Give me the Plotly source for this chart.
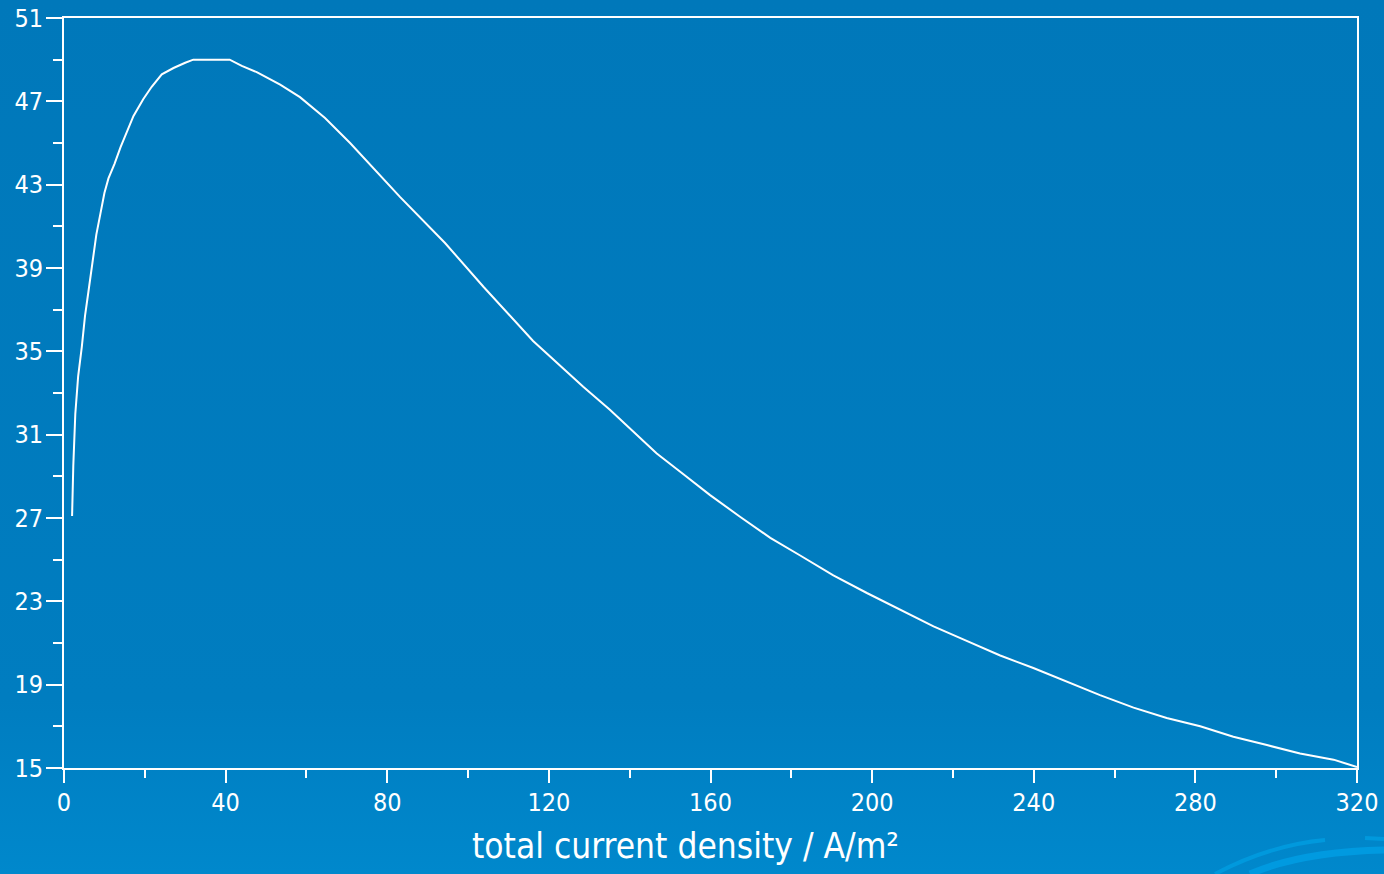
import plotly.graph_objects as go

# total current density (A/m^2)
current_density = [2.0, 2.3, 2.8, 3.5, 4.4, 5.2, 6.0, 7.0, 8.0, 9.0, 10.0, 11.0, 12.5, 14.0,
                   15.5, 17.2, 19.6, 21.7, 24.2, 27.1, 30.0, 32.0, 41.0, 44.0, 47.7, 53.5,
                   58.4, 64.6, 70.8, 83.2, 94.3, 103.8, 116.1, 128.5, 135.1, 141.8, 146.7,
                   153.3, 159.9, 167.3, 174.8, 182.2, 190.4, 198.7, 207.0, 215.2, 223.4,
                   231.7, 239.9, 248.2, 256.4, 264.7, 272.9, 281.2, 289.4, 297.7, 305.9,
                   314.2, 320.0]
values = [27.1, 29.5, 32.0, 33.8, 35.2, 36.7, 37.8, 39.2, 40.6, 41.6, 42.6, 43.3, 44.0, 44.8,
          45.5, 46.3, 47.1, 47.7, 48.3, 48.6, 48.85, 49.0, 49.0, 48.7, 48.4, 47.8,
          47.2, 46.2, 45.0, 42.4, 40.2, 38.1, 35.5, 33.3, 32.2, 31.0, 30.1,
          29.1, 28.1, 27.06, 26.05, 25.2, 24.25, 23.4, 22.6, 21.8, 21.1,
          20.4, 19.8, 19.15, 18.5, 17.9, 17.4, 17.0, 16.5, 16.1, 15.7,
          15.4, 15.05]

x_ticks = [0, 40, 80, 120, 160, 200, 240, 280, 320]
y_ticks = [15, 19, 23, 27, 31, 35, 39, 43, 47, 51]
x_title = "total current density / A/m²"

W, H = 1384, 874
ML, MR, MT, MB = 64, 27, 18, 106
PW, PH = W - ML - MR, H - MT - MB

bg_svg = (
    "data:image/svg+xml;utf8,"
    "<svg xmlns='http://www.w3.org/2000/svg' width='1384' height='874' viewBox='0 0 1384 874' preserveAspectRatio='none'>"
    "<defs><linearGradient id='g' x1='0' y1='0' x2='0' y2='1'>"
    "<stop offset='0' stop-color='%230078BA'/>"
    "<stop offset='0.8' stop-color='%23007DC0'/>"
    "<stop offset='1' stop-color='%230088CC'/>"
    "</linearGradient></defs>"
    "<rect width='1384' height='874' fill='url(%23g)'/>"
    "<path d='M1215 874 Q1270 845 1325 840' stroke='%230099DD' stroke-width='4' fill='none'/>"
    "<path d='M1365 838 L1384 839' stroke='%230099DD' stroke-width='4' fill='none'/>"
    "<path d='M1250 874 Q1300 852 1384 850' stroke='%23009AE0' stroke-width='7' fill='none'/>"
    "</svg>"
)

font_family = "DejaVu Sans Condensed, Liberation Sans Narrow, Liberation Sans, sans-serif"

fig = go.Figure()
fig.add_trace(go.Scatter(
    x=current_density, y=values, mode="lines",
    line=dict(color="white", width=2),
    showlegend=False, hoverinfo="skip",
))

axis_common = dict(
    showline=True, linecolor="white", linewidth=2, mirror=True,
    ticks="outside", tickcolor="white", tickwidth=2,
    showgrid=False, zeroline=False, automargin=False,
    tickfont=dict(family=font_family, size=25, color="white"),
)

fig.update_xaxes(
    range=[0, 320], tickvals=x_ticks, ticklen=13,
    minor=dict(tick0=0, dtick=20, ticklen=8, ticks="outside", tickcolor="white", tickwidth=2, showgrid=False),
    ticklabelstandoff=-2,
    **axis_common,
)
fig.update_yaxes(
    range=[15, 51], tickvals=y_ticks, ticklen=16,
    minor=dict(tick0=15, dtick=2, ticklen=9, ticks="outside", tickcolor="white", tickwidth=2, showgrid=False),
    ticklabelstandoff=-2,
    **axis_common,
)

fig.add_annotation(
    text=x_title, xref="paper", yref="paper",
    x=(685 - ML) / PW, y=-(846 - (H - MB)) / PH,
    xanchor="center", yanchor="middle", showarrow=False,
    font=dict(family=font_family, size=35, color="white"),
)

fig.update_layout(
    width=W, height=H,
    margin=dict(l=ML, r=MR, t=MT, b=MB, autoexpand=False),
    paper_bgcolor="#0079BC", plot_bgcolor="rgba(0,0,0,0)",
    images=[dict(source=bg_svg, xref="paper", yref="paper",
                 x=-ML / PW, y=1 + MT / PH, sizex=W / PW, sizey=H / PH,
                 xanchor="left", yanchor="top",
                 sizing="stretch", layer="below")],
)

fig.write_html("out.html", config={"displayModeBar": False},
               post_script="document.body.style.margin='0';document.body.style.overflow='hidden';")
